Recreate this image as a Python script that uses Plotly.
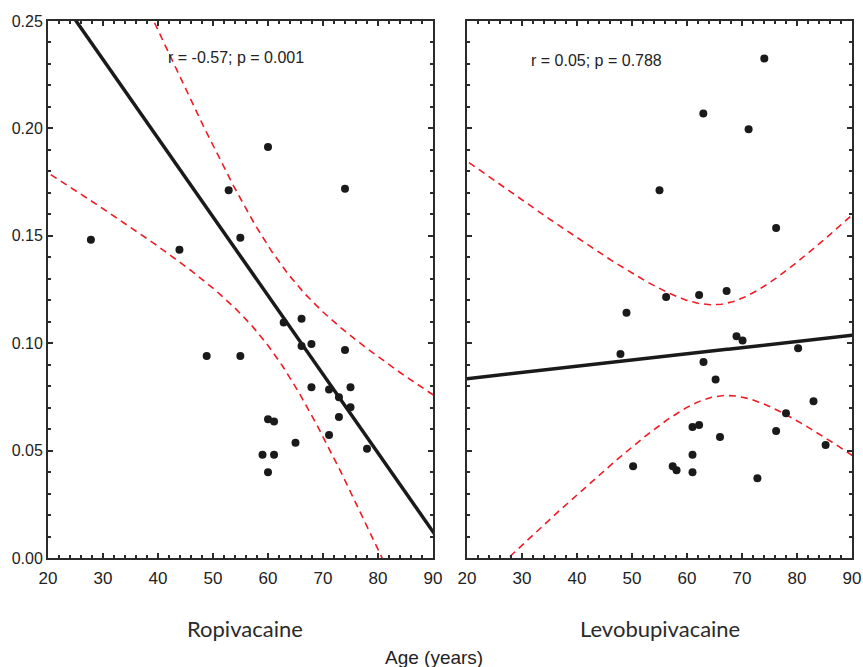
import numpy as np
import plotly.graph_objects as go
from plotly.subplots import make_subplots

# ---- data ----
ropi_age = [27.8, 43.9, 52.85, 54.97, 60.0, 74.0,
            48.85, 54.97, 62.85, 66.1, 66.1, 67.9, 74.0, 67.9, 71.1, 72.9,
            75.0, 75.0, 72.9, 71.1, 60.0, 61.1, 65.0, 59.0, 61.1, 60.0, 78.0]
ropi_val = [0.1482, 0.1435, 0.1712, 0.1491, 0.1913, 0.1719,
            0.0940, 0.0940, 0.1096, 0.1114, 0.0987, 0.0996, 0.0968, 0.0795, 0.0785, 0.0748,
            0.0795, 0.0702, 0.0656, 0.0573, 0.0646, 0.0636, 0.0537, 0.0481, 0.0481, 0.0399, 0.0509]

levo_age = [74.06, 62.97, 71.2, 55.0, 76.2,
            56.2, 62.2, 67.2, 49.0, 47.9, 69.0, 70.1, 80.2, 63.0, 65.2, 83.0,
            78.0, 61.0, 62.2, 66.0, 76.2, 85.2, 61.0, 50.2, 57.4, 58.1, 61.0, 72.8]
levo_val = [0.2326, 0.2069, 0.1996, 0.1712, 0.1536,
            0.1215, 0.1224, 0.1243, 0.1142, 0.0950, 0.1032, 0.1013, 0.0976, 0.0912, 0.0831, 0.0730,
            0.0674, 0.0610, 0.0619, 0.0563, 0.0591, 0.0526, 0.0481, 0.0427, 0.0427, 0.0408, 0.0399, 0.0371]

# fitted line and 95% confidence band, as drawn in the reference:
# [intercept at age 0, slope per year, band centre age, min half-width, band slope]
ropi_fit = [0.3420, -0.003664, 61.5, 0.0230, 0.00208]
levo_fit = [0.0777, 0.000289, 66.0, 0.0213, 0.00215]

panel_titles = ["Ropivacaine", "Levobupivacaine"]
stat_labels = ["r = -0.57; p = 0.001", "r = 0.05; p = 0.788"]
x_title = "Age (years)"
x_ticks = [20, 30, 40, 50, 60, 70, 80, 90]
y_ticks = [0.00, 0.05, 0.10, 0.15, 0.20, 0.25]


def fit_curves(params):
    b0, b1, xc, h0, k = params
    g = np.linspace(15, 95, 321)
    yh = b0 + b1 * g
    hw = np.sqrt(h0 ** 2 + (k * (g - xc)) ** 2)
    return g, yh, yh - hw, yh + hw


fig = make_subplots(rows=1, cols=2, horizontal_spacing=0.0423)

panels = [(ropi_age, ropi_val, ropi_fit), (levo_age, levo_val, levo_fit)]
for i, (ax, av, fp) in enumerate(panels, start=1):
    g, yh, lo, hi = fit_curves(fp)
    for band in (lo, hi):
        fig.add_trace(go.Scatter(x=g, y=band, mode="lines",
                                 line=dict(color="#ee1c25", width=1.6, dash="7px,5px"),
                                 showlegend=False, hoverinfo="skip"), row=1, col=i)
    fig.add_trace(go.Scatter(x=g, y=yh, mode="lines",
                             line=dict(color="#1a1a1a", width=3.5),
                             showlegend=False, hoverinfo="skip"), row=1, col=i)
    fig.add_trace(go.Scatter(x=ax, y=av, mode="markers",
                             marker=dict(color="#1a1a1a", size=8),
                             showlegend=False), row=1, col=i)

axis_common = dict(showline=True, linecolor="#2b2b2b", linewidth=2, mirror="ticks",
                   ticks="inside", ticklen=5, tickwidth=1.5, tickcolor="#2b2b2b",
                   showgrid=False, zeroline=False, automargin=False,
                   tickfont=dict(family="Liberation Sans, Arial", size=17, color="#222"))

for i in (1, 2):
    fig.update_xaxes(range=[20, 90], tickvals=x_ticks, ticktext=[str(t) for t in x_ticks],
                     minor=dict(dtick=2, ticks="inside", ticklen=3, tickcolor="#2b2b2b", showgrid=False),
                     ticklabelstandoff=4,
                     **axis_common, row=1, col=i)
    fig.update_yaxes(range=[0, 0.25], tickvals=y_ticks, ticktext=[f"{t:.2f}" for t in y_ticks],
                     minor=dict(dtick=0.01, ticks="inside", ticklen=3, tickcolor="#2b2b2b", showgrid=False),
                     showticklabels=(i == 1),
                     **axis_common, row=1, col=i)
fig.update_yaxes(tickfont=dict(family="Liberation Sans, Arial", size=16, color="#222"), row=1, col=1)

annotations = [
    dict(x=54.2, y=0.2332, xref="x", yref="y", text=stat_labels[0], showarrow=False,
         font=dict(family="Liberation Sans, Arial", size=16, color="#222")),
    dict(x=43.6, y=0.2318, xref="x2", yref="y2", text=stat_labels[1], showarrow=False,
         font=dict(family="Liberation Sans, Arial", size=16, color="#222")),
    dict(x=(245 - 48) / 804, y=-70 / 537, xref="paper", yref="paper", text=panel_titles[0],
         showarrow=False, xanchor="center", yanchor="middle",
         font=dict(family="Lato", size=22, color="#2a2a2a")),
    dict(x=(660 - 48) / 804, y=-70 / 537, xref="paper", yref="paper", text=panel_titles[1],
         showarrow=False, xanchor="center", yanchor="middle",
         font=dict(family="Lato", size=22, color="#2a2a2a")),
    dict(x=(434 - 48) / 804, y=-99 / 537, xref="paper", yref="paper", text=x_title,
         showarrow=False, xanchor="center", yanchor="middle",
         font=dict(family="Liberation Sans, Arial", size=19, color="#222")),
]

fig.update_layout(width=863, height=667, margin=dict(l=48, r=11, t=21, b=109, autoexpand=False),
                  plot_bgcolor="white", paper_bgcolor="white",
                  annotations=annotations)

# remove the browser's default body margin so the figure fills the window exactly
fig.write_html("out.html", config={"displayModeBar": False},
               post_script="document.body.style.margin='0';document.body.style.overflow='hidden';")
